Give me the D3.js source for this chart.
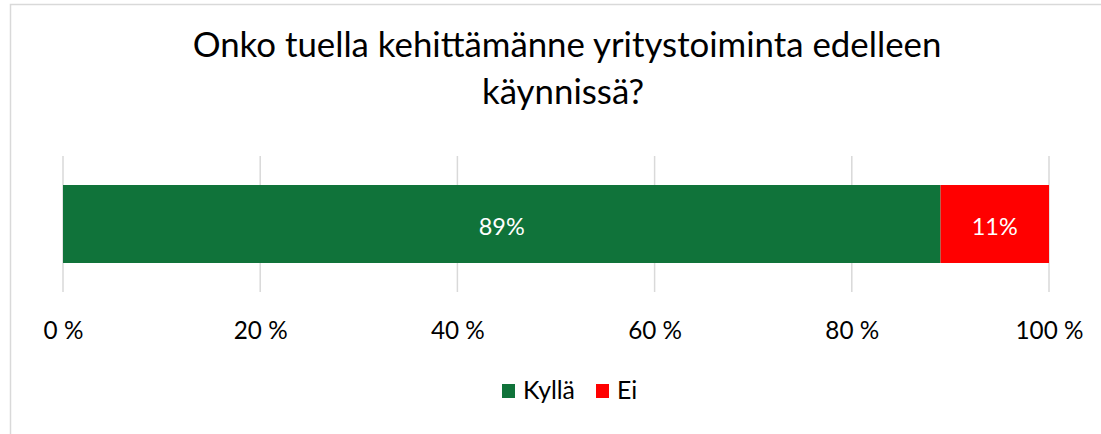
<!DOCTYPE html>
<html><head><meta charset="utf-8">
<script src="https://cdn.jsdelivr.net/npm/d3@7"></script>
<style>body{margin:0;background:#fff}svg{display:block}text{font-family:Lato,"Noto Sans",sans-serif}</style>
</head><body>
<svg id="c" width="1101" height="434"></svg>
<script>
const titleLines = ["Onko tuella kehittämänne yritystoiminta edelleen", "käynnissä?"];
const categories = ["Onko tuella kehittämänne yritystoiminta edelleen käynnissä?"];
const seriesNames = ["Kyllä", "Ei"];
const seriesValues = [0.89, 0.11];
const seriesLabels = ["89%", "11%"];
const tickValues = [0, 0.2, 0.4, 0.6, 0.8, 1.0];
const tickLabels = ["0 %", "20 %", "40 %", "60 %", "80 %", "100 %"];
const colors = ["#10733a", "#ff0000"];

const svg = d3.select("#c");
svg.append("rect").attr("x",10.5).attr("y",4.5).attr("width",1200).attr("height",600)
  .attr("fill","#fff").attr("stroke","#d9d9d9").attr("stroke-width",1.5);

function fitSize(txt, fs0, target){
  const t = svg.append("text").attr("font-size",fs0).text(txt);
  const w = t.node().getComputedTextLength(); t.remove();
  return fs0*target/w;
}

const titleFs = fitSize(titleLines[0], 28, 749);
svg.append("text").attr("x",567).attr("y",57).attr("text-anchor","middle").attr("font-size",titleFs).attr("fill","#000").text(titleLines[0]);
svg.append("text").attr("x",563).attr("y",104).attr("text-anchor","middle").attr("font-size",titleFs).attr("fill","#000").text(titleLines[1]);

const x = d3.scaleLinear().domain([0,1]).range([63,1049]);
const y = d3.scaleBand().domain(categories).range([156,292]).paddingInner(0).paddingOuter(0.372);

svg.append("g").selectAll("line").data(tickValues).join("line")
  .attr("x1",d=>x(d)).attr("x2",d=>x(d)).attr("y1",156).attr("y2",292)
  .attr("stroke","#d9d9d9").attr("stroke-width",1.5);

let cum = 0;
const stacks = seriesValues.map((v,i)=>{ const s={i, x0:cum, x1:cum+v}; cum+=v; return s; });
const cat = categories[0];
svg.append("g").selectAll("rect").data(stacks).join("rect")
  .attr("x",d=>x(d.x0)).attr("width",d=>x(d.x1)-x(d.x0))
  .attr("y",y(cat)).attr("height",y.bandwidth()).attr("fill",d=>colors[d.i]);
const labFs = fitSize("11%", 20, 46);
svg.append("g").selectAll("text").data(stacks).join("text")
  .attr("x",d=>x((d.x0+d.x1)/2)).attr("y",y(cat)+y.bandwidth()/2+11)
  .attr("text-anchor","middle").attr("font-size",labFs).attr("fill","#fff")
  .text(d=>seriesLabels[d.i]);

const axFs = fitSize("100 %", 20, 68);
const axis = d3.axisBottom(x).tickValues(tickValues).tickFormat((d,i)=>tickLabels[i]).tickSize(0).tickPadding(0);
const ag = svg.append("g").attr("transform","translate(0,320)").call(axis);
ag.select(".domain").remove();
ag.selectAll("text").attr("font-size",axFs).attr("fill","#000").attr("dy",0).attr("y",19)
  .style("font-family","Lato, 'Noto Sans', sans-serif");

const lgFs = fitSize("Kyllä", 20, 52);
const lg = svg.append("g");
const items = [{n:seriesNames[0],c:colors[0],x:502},{n:seriesNames[1],c:colors[1],x:596}];
items.forEach(it=>{
  lg.append("rect").attr("x",it.x).attr("y",384).attr("width",13).attr("height",14).attr("fill",it.c);
  lg.append("text").attr("x",it.x+21).attr("y",399).attr("font-size",lgFs).attr("fill","#000").text(it.n);
});
</script>
</body></html>
